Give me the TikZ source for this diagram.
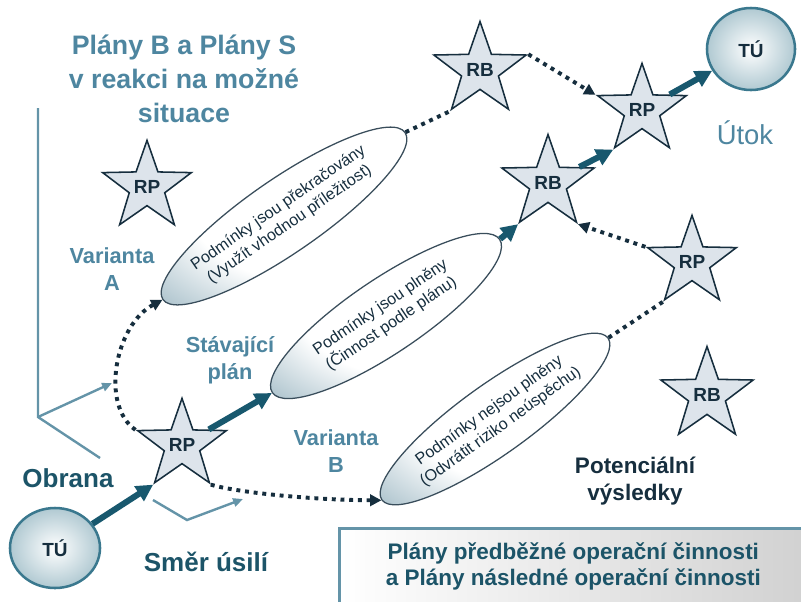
\documentclass[tikz,border=0pt]{standalone}
\usepackage{fontspec}
\setmainfont{Liberation Sans}
\usetikzlibrary{shapes.geometric,arrows.meta}
\definecolor{titleblue}{RGB}{78,134,160}
\definecolor{darkteal}{RGB}{28,84,104}
\definecolor{navy}{RGB}{22,46,62}
\definecolor{starfill}{RGB}{221,228,235}
\definecolor{arrowteal}{RGB}{24,88,110}
\definecolor{axisblue}{RGB}{100,148,168}
\definecolor{ellteal}{RGB}{70,120,142}
\definecolor{tuedge}{RGB}{58,120,142}
\pgfdeclareradialshading{elipsovy}{\pgfpoint{10bp}{7bp}}{color(0bp)=(white); color(24bp)=(white); color(38bp)=(ellteal!45); color(50bp)=(ellteal)}

\begin{document}
\begin{tikzpicture}
    [x=0.025cm,y=-0.025cm,
     hvezda/.style={star,star points=5,star point ratio=2.5,minimum size=2.15cm,inner sep=0pt,
       draw=navy,line width=1.1pt,fill=starfill,font=\fontsize{13.5}{14}\selectfont\bfseries,text=navy},
     cil/.style={ellipse,draw=tuedge,line width=1.8pt,inner color=white,outer color=tuedge!40,
       font=\fontsize{13.5}{14}\selectfont\bfseries,text=navy},
     podminka/.style={ellipse,draw=navy!85,line width=0.9pt,shading=elipsovy,minimum height=1.85cm},
     podminkatext/.style={align=center,text=navy,font=\fontsize{11.5}{14}\selectfont},
     popis/.style={align=center,font=\fontsize{15.5}{19.5}\selectfont\bfseries,text=titleblue},
     tah/.style={line width=4.3pt,draw=arrowteal,-{Triangle[length=12pt,width=12pt]}},
     tecky/.style={line width=2.8pt,draw=navy,dash pattern=on 2.8pt off 3.4pt},
     hrot/.style={-{Triangle[length=8pt,width=8pt]}},
     osa/.style={line width=1.7pt,draw=axisblue}]
  \useasboundingbox (0,0) rectangle (801,601);

  \node[popis,font=\fontsize{19}{24}\selectfont\bfseries] (nadpis) at (184,79)
    {Plány B a Plány S\\v reakci na možné\\situace};

  \coordinate (pocatek) at (38,417);
  \coordinate (osahore) at (38,108);
  \coordinate (osaprava) at (112,383);
  \coordinate (osadole) at (100,458);
  \draw[osa] (osahore) -- (pocatek) -- (osadole);
  \draw[osa,-{Triangle[length=7pt,width=6pt]}] (pocatek) -- (osaprava);
  \coordinate (smer1) at (153,500);
  \coordinate (smer2) at (187,520);
  \coordinate (smer3) at (243,499);
  \draw[osa,-{Triangle[length=7pt,width=6pt]}] (smer1) -- (smer2) -- (smer3);

  \node[podminka,rotate=34.6,minimum width=7.35cm] (e1) at (284,216) {};
  \node[podminkatext,rotate=34.6] (e1text) at (e1) {Podmínky jsou překračovány\\(Využít vhodnou příležitost)};
  \node[podminka,rotate=34,minimum width=6.85cm] (e2) at (386,316) {};
  \node[podminkatext,rotate=34] (e2text) at (e2) {Podmínky jsou plněny\\(Činnost podle plánu)};
  \node[podminka,rotate=35.6,minimum width=6.95cm,minimum height=1.75cm] (e3) at (495,419) {};
  \node[podminkatext,rotate=35.6] (e3text) at (e3) {Podmínky nejsou plněny\\(Odvrátit riziko neúspěchu)};

  \node[hvezda] (rp0) at (147,187) {RP};
  \node[hvezda] (rp1) at (182,445) {RP};
  \node[hvezda] (rb1) at (480,70) {RB};
  \node[hvezda] (rp2) at (642,110) {RP};
  \node[hvezda] (rb2) at (548,183) {RB};
  \node[hvezda] (rp3) at (692,262) {RP};
  \node[hvezda] (rb3) at (707,395) {RB};

  \node[cil,minimum width=2.25cm,minimum height=2cm] (tu1) at (55,548) {TÚ};
  \node[cil,minimum width=2.2cm,minimum height=2.05cm] (tu2) at (751,49) {TÚ};

  \draw[tah] (tu1) -- (rp1.outer point 3);
  \draw[tah] (rp1) -- (e2.west);
  \draw[tah] (e2.east) -- (rb2.outer point 3);
  \draw[tah] (rb2) -- (rp2.outer point 3);
  \draw[tah] (rp2) -- (tu2);

  \draw[tecky,hrot] (rp1.outer point 2) .. controls (100,405) and (115,325) .. (e1.west);
  \draw[tecky,hrot] (rp1.outer point 4) .. controls (235,492) and (310,500) .. (e3.west);
  \draw[tecky] (e1.east) -- (rb1.outer point 3);
  \draw[tecky,hrot] (rb1.outer point 5) -- (rp2.outer point 2);
  \draw[tecky,hrot] (rp3.outer point 2) -- (rb2.outer point 4);
  \draw[tecky] (e3.east) -- (rp3.outer point 3);

  \node[popis] (varA) at (112,269) {Varianta\\A};
  \node[popis] (stavajici) at (230,360) {Stávající\\plán};
  \node[popis] (varB) at (336,451) {Varianta\\B};
  \node[popis,text=darkteal,font=\fontsize{18.5}{20}\selectfont\bfseries] (obrana) at (68,478) {Obrana};
  \node[popis,text=darkteal,font=\fontsize{18.5}{20}\selectfont\bfseries] (smer) at (206,562) {Směr úsilí};
  \node[popis,font=\fontsize{19.5}{20}\selectfont] (utok) at (745,133) {Útok};
  \node[popis,text=navy,font=\fontsize{16}{19}\selectfont\bfseries] (vysledky) at (635,481) {Potenciální\\výsledky};

  \node[draw=axisblue,line width=1.8pt,left color=white,right color=black!18,anchor=north west,
    minimum width=11.7cm,minimum height=1.9cm,align=center,text=darkteal,
    font=\fontsize{16}{18.5}\selectfont\bfseries] (plany) at (338,527)
    {Plány předběžné operační činnosti\\a Plány následné operační činnosti};
\end{tikzpicture}
\end{document}
